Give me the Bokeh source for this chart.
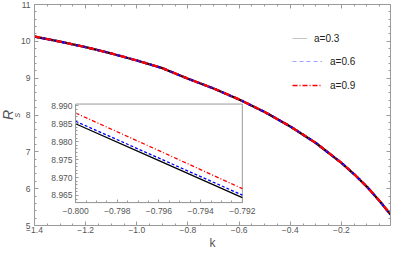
import numpy as np
from bokeh.plotting import figure
from bokeh.models import Range1d, LinearAxis, FixedTicker, Legend, LegendItem, Title
from bokeh.embed import file_html
from bokeh.resources import INLINE

# ---------------- data ----------------
k_main = [-1.4, -1.3, -1.2, -1.1, -1.0, -0.9, -0.8, -0.7, -0.6, -0.5, -0.4, -0.3, -0.2, -0.15, -0.1, -0.05, -0.008]
Rs_a03 = [10.130, 9.990, 9.840, 9.670, 9.480, 9.270, 8.985, 8.720, 8.420, 8.080, 7.690, 7.240, 6.700, 6.390, 6.050, 5.660, 5.300]
Rs_a06 = [10.131, 9.991, 9.841, 9.671, 9.481, 9.271, 8.986, 8.721, 8.421, 8.081, 7.691, 7.241, 6.701, 6.391, 6.051, 5.661, 5.301]
Rs_a09 = [10.133, 9.993, 9.843, 9.673, 9.483, 9.273, 8.988, 8.723, 8.423, 8.083, 7.693, 7.243, 6.703, 6.393, 6.053, 5.663, 5.303]

k_inset = [-0.800, -0.796, -0.792]
Rs_in_a03 = [8.9850, 8.9747, 8.9644]
Rs_in_a06 = [8.9857, 8.9754, 8.9651]
Rs_in_a09 = [8.9880, 8.9775, 8.9669]

series_labels = ["a=0.3", "a=0.6", "a=0.9"]

x_ticks = [-1.4, -1.2, -1.0, -0.8, -0.6, -0.4, -0.2]
x_tick_labels = ["\u22121.4", "\u22121.2", "\u22121.0", "\u22120.8", "\u22120.6", "\u22120.4", "\u22120.2"]
y_ticks = [5, 6, 7, 8, 9, 10, 11]
y_tick_labels = ["5", "6", "7", "8", "9", "10", "11"]
inset_x_ticks = [-0.800, -0.798, -0.796, -0.794, -0.792]
inset_x_tick_labels = ["\u22120.800", "\u22120.798", "\u22120.796", "\u22120.794", "\u22120.792"]
inset_y_ticks = [8.965, 8.970, 8.975, 8.980, 8.985, 8.990]
inset_y_tick_labels = ["8.965", "8.970", "8.975", "8.980", "8.985", "8.990"]

x_lim = (-1.4, -0.008)
y_lim = (5.0, 11.0)
inset_x_lim = (-0.800, -0.792)
inset_y_lim = (8.963, 8.9905)

# ---------------- layout / style ----------------
FONT = "Liberation Sans"
FRAME = "#9a9a9a"
TXT = "#555555"
fx0, fx1 = 0.1154, 0.5838   # inset box as frame fractions
fy0, fy1 = 0.1036, 0.5495

sx = (inset_x_lim[1] - inset_x_lim[0]) / (fx1 - fx0)
ix_start = inset_x_lim[0] - fx0 * sx
sy = (inset_y_lim[1] - inset_y_lim[0]) / (fy1 - fy0)
iy_start = inset_y_lim[0] - fy0 * sy

p = figure(width=391, height=252, output_backend="svg", toolbar_location=None,
           x_range=Range1d(*x_lim), y_range=Range1d(*y_lim),
           min_border_left=32, min_border_right=1, min_border_top=4, min_border_bottom=26)
p.extra_x_ranges = {"ix": Range1d(ix_start, ix_start + sx)}
p.extra_y_ranges = {"iy": Range1d(iy_start, iy_start + sy)}
p.xgrid.visible = False
p.ygrid.visible = False
p.outline_line_color = None
p.background_fill_color = "white"
p.border_fill_color = "white"


def style_axis(ax, ticks, labels, minor, standoff, show=True, tin=4, tmin=2):
    ax.ticker = FixedTicker(ticks=ticks, minor_ticks=minor)
    ax.major_label_overrides = dict(zip(ticks, labels))
    ax.axis_line_color = FRAME
    ax.major_tick_line_color = FRAME
    ax.minor_tick_line_color = FRAME
    ax.major_tick_in = tin
    ax.major_tick_out = 0
    ax.minor_tick_in = tmin
    ax.minor_tick_out = 0
    ax.major_label_text_font = FONT
    ax.major_label_text_color = TXT
    ax.major_label_standoff = standoff
    ax.major_label_text_font_size = "8.5px" if show else "0px"


x_minor = list(np.round(np.arange(-1.4, 0.0, 0.05), 4))
y_minor = list(np.round(np.arange(5.0, 11.01, 0.2), 4))
ix_minor = list(np.round(np.arange(-0.8, -0.7919, 0.0005), 5))
iy_minor = list(np.round(np.arange(8.963, 8.9906, 0.001), 4))

xa = p.below[0]
ya = p.left[0]
style_axis(xa, x_ticks, x_tick_labels, x_minor, 1)
style_axis(ya, y_ticks, y_tick_labels, y_minor, 4)
xa.axis_label = "k"
xa.axis_label_text_font = FONT
xa.axis_label_text_font_style = "normal"
xa.axis_label_text_font_size = "12px"
xa.axis_label_text_color = TXT
xa.axis_label_standoff = 0

top = LinearAxis()
style_axis(top, x_ticks, ["" for _ in x_ticks], x_minor, 0, show=False)
p.add_layout(top, "above")
right = LinearAxis()
style_axis(right, y_ticks, ["" for _ in y_ticks], y_minor, 0, show=False)
p.add_layout(right, "right")

# main curves
p.line(k_main, Rs_a03, line_color="black", line_width=2.3)
p.line(k_main, Rs_a06, line_color="blue", line_width=2.3, line_dash="4 3")
p.line(k_main, Rs_a09, line_color="red", line_width=2.3, line_dash="6 2 1 2")

# inset
p.quad(left=[inset_x_lim[0]], right=[inset_x_lim[1]], bottom=[inset_y_lim[0]], top=[inset_y_lim[1]],
       x_range_name="ix", y_range_name="iy", fill_color="white", line_color=FRAME, line_width=1)
p.line(k_inset, Rs_in_a03, line_color="black", line_width=1.3, x_range_name="ix", y_range_name="iy")
p.line(k_inset, Rs_in_a06, line_color="blue", line_width=1.3, line_dash="3 2", x_range_name="ix", y_range_name="iy")
p.line(k_inset, Rs_in_a09, line_color="red", line_width=1.3, line_dash="4 2 1 2", x_range_name="ix", y_range_name="iy")

iax_x = LinearAxis(x_range_name="ix", y_range_name="iy", fixed_location=inset_y_lim[0], bounds=inset_x_lim)
style_axis(iax_x, inset_x_ticks, inset_x_tick_labels, ix_minor, 5, tin=3, tmin=2)
p.add_layout(iax_x, "below")
iax_y = LinearAxis(x_range_name="ix", y_range_name="iy", fixed_location=inset_x_lim[0], bounds=inset_y_lim)
style_axis(iax_y, inset_y_ticks, inset_y_tick_labels, iy_minor, 3, tin=3, tmin=2)
p.add_layout(iax_y, "left")

# legend (dummy renderers styled like the reference legend; NaN data draws nothing)
nan2 = [float("nan"), float("nan")]
r1 = p.line(nan2, nan2, line_color="#c4c4c4", line_width=1)
r2 = p.line(nan2, nan2, line_color="#a0a0ff", line_width=1, line_dash="4 3")
r3 = p.line(nan2, nan2, line_color="red", line_width=1.5, line_dash="5 2 1 2")
common = dict(padding=0, margin=0, spacing=10, glyph_height=14, label_height=14,
              border_line_alpha=0, background_fill_alpha=0,
              label_text_font=FONT, label_text_font_size="10px", label_text_color="#222222")
leg1 = Legend(items=[LegendItem(label=series_labels[0], renderers=[r1], index=0)],
              location=(258, 180), glyph_width=15, label_standoff=7, **common)
leg2 = Legend(items=[LegendItem(label=series_labels[1], renderers=[r2], index=0),
                     LegendItem(label=series_labels[2], renderers=[r3], index=0)],
              location=(258, 133), glyph_width=30, label_standoff=8, **common)
p.add_layout(leg1)
p.add_layout(leg2)

# y-axis label R_s (two titles in the left panel: subscript nearer the axis)
t_s = Title(text="s", align="center", offset=-10, standoff=-7, text_font=FONT, text_font_style="italic",
            text_font_size="9.5px", text_color=TXT)
t_R = Title(text="R", align="center", offset=0, standoff=-6, text_font=FONT, text_font_style="italic",
            text_font_size="14px", text_color=TXT)
p.add_layout(t_s, "left")
p.add_layout(t_R, "left")

open("out.html", "w").write(file_html(p, INLINE))
